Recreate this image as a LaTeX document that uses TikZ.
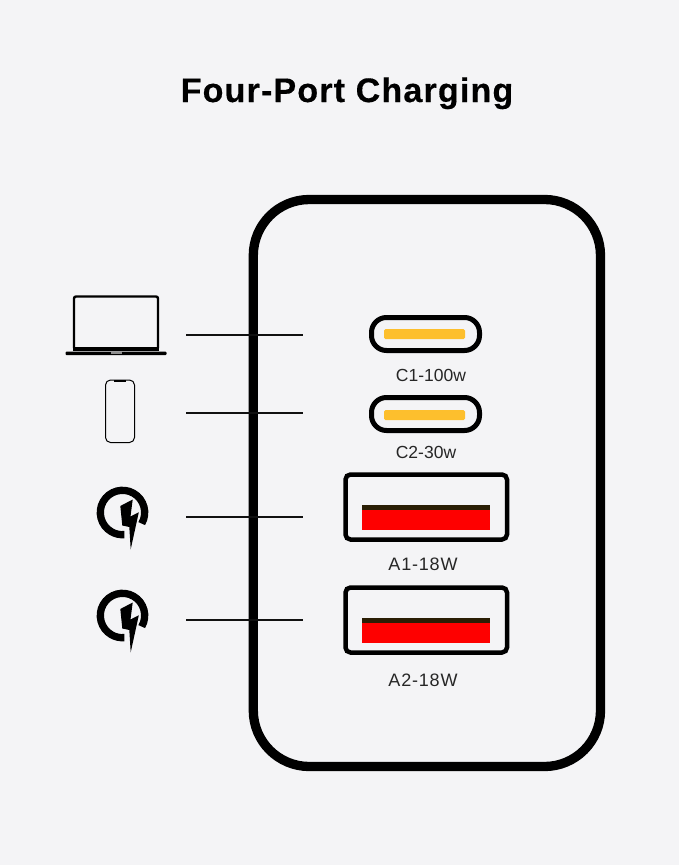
\documentclass[tikz,border=0pt]{standalone}
\usepackage{fontspec}
\setmainfont{Liberation Sans}
\definecolor{bgc}{HTML}{F4F4F6}
\definecolor{amberc}{HTML}{FDBF2D}
\definecolor{darkc}{HTML}{2A1E05}
\definecolor{redc}{HTML}{FE0000}
\definecolor{inkc}{HTML}{111111}
\tikzset{
  casebox/.style={draw=black,line width=9.3pt,rounded corners=56pt},
  cport/.style={draw=black,line width=5pt,rounded corners=15pt},
  aport/.style={draw=black,line width=4.5pt,rounded corners=5pt},
  cbar/.style={fill=amberc,rounded corners=1.5pt},
  conn/.style={draw=inkc,line width=1.4pt},
  lblc/.style={text=black!85,inner sep=0pt,font=\fontsize{17.5pt}{19pt}\selectfont},
  lbla/.style={text=black!85,inner sep=0pt,font=\fontsize{18pt}{20pt}\selectfont\addfontfeature{LetterSpace=4.5}},
  ttl/.style={text=black,inner sep=0pt,anchor=base,font=\fontsize{34pt}{40pt}\selectfont\bfseries\addfontfeature{LetterSpace=3.5,FakeBold=0.4}},
}
\newcommand{\chargeat}[2]{%
  \begin{scope}[shift={(#1,#2)}]
    \draw[black,line width=7.3pt] ({22.2*cos(30)},{22.2*sin(30)}) arc[start angle=30,end angle=-275,radius=22.2];
    \draw[bgc,line width=1.6pt] (7.5,4.2) -- (16.3,-0.2) -- (8.2,36.8) -- (6.8,14.2);
    \fill[black] (-2.2,-6.5) -- (10.2,-13) -- (8,4) -- (16.3,-0.2) -- (8.2,36.8) -- (6.8,14.5) -- (-0.2,13) -- cycle;
  \end{scope}}
\begin{document}
\begin{tikzpicture}[x=1pt,y=-1pt]
\useasboundingbox (0,0) rectangle (679,865);
\fill[bgc] (0,0) rectangle (679,865);
\node[ttl] (title) at (347,102) {Four-Port Charging};
% charger body
\draw[casebox] (253.3,199.5) rectangle (600.5,766.5);
% ports
\draw[cport] (371.5,317.5) rectangle (479.5,350.5);
\fill[cbar] (384,329) rectangle (465,339);
\draw[cport] (371.5,397.5) rectangle (479.5,430.5);
\fill[cbar] (384,410) rectangle (465,420);
\draw[aport] (345.5,474.5) rectangle (507,539.5);
\fill[darkc] (362,505) rectangle (490,511);
\fill[redc] (362,510) rectangle (490,530);
\draw[aport] (345.5,587.5) rectangle (507,652.5);
\fill[darkc] (362,618) rectangle (490,624);
\fill[redc] (362,623) rectangle (490,643);
% labels
\node[lblc] (c1) at (431,375) {C1-100w};
\node[lblc] (c2) at (426,452) {C2-30w};
\node[lbla] (a1) at (423,564) {A1-18W};
\node[lbla] (a2) at (423,680) {A2-18W};
% laptop
\draw[black,line width=2.4pt,rounded corners=2pt] (74,296.5) rectangle (158,349.5);
\fill[black] (73,347) rectangle (159,350.5);
\fill[black,rounded corners=1pt] (65.5,351.5) rectangle (166.5,355);
\fill[black!45] (111,351.5) rectangle (122,353.5);
% phone
\draw[black,line width=1pt,rounded corners=5pt] (105.5,380) rectangle (134.5,442.5);
\draw[black,line width=1.6pt] (114,381) -- (126,381);
% charge icons
\chargeat{122.5}{512.5}
\chargeat{122.5}{615.5}
% connectors
\coordinate (l1a) at (186,335); \coordinate (l1b) at (303,335);
\coordinate (l2a) at (186,413); \coordinate (l2b) at (303,413);
\coordinate (l3a) at (186,517); \coordinate (l3b) at (303,517);
\coordinate (l4a) at (186,620); \coordinate (l4b) at (303,620);
\draw[conn] (l1a) -- (l1b);
\draw[conn] (l2a) -- (l2b);
\draw[conn] (l3a) -- (l3b);
\draw[conn] (l4a) -- (l4b);
\end{tikzpicture}
\end{document}
